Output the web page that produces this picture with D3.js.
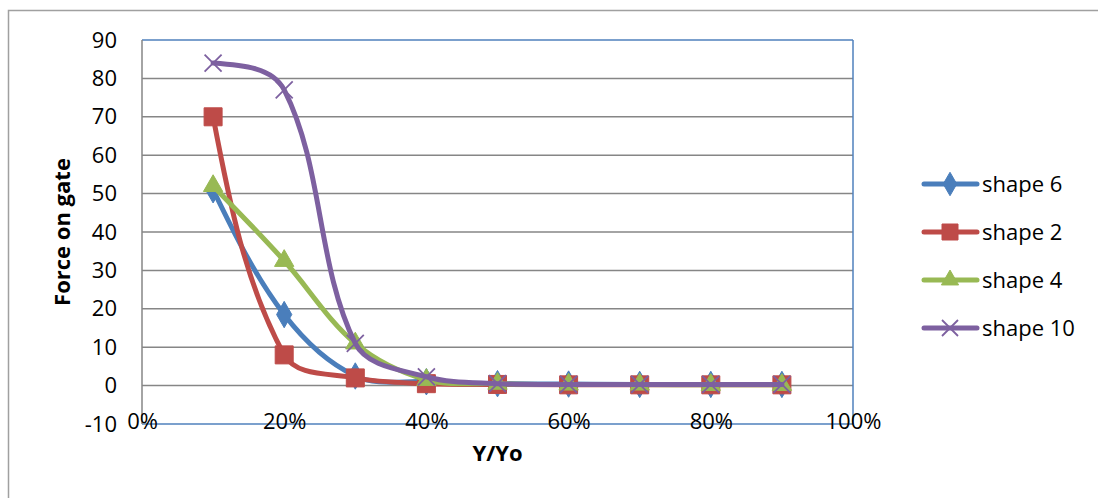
<!DOCTYPE html>
<html>
<head>
<meta charset="utf-8">
<script src="https://cdn.jsdelivr.net/npm/d3@7"></script>
<style>
  body { margin: 0; background: #fff; }
  svg text { font-family: "Open Sans", "Noto Sans", sans-serif; fill: #000; }
</style>
</head>
<body>
<svg id="chart" width="1098" height="498"></svg>
<script>
var xValues = [0.1, 0.2, 0.3, 0.4, 0.5, 0.6, 0.7, 0.8, 0.9];
var seriesNames = ["shape 6", "shape 2", "shape 4", "shape 10"];
var shape6 = [51, 18.5, 2.5, 1, 0.5, 0.4, 0.3, 0.3, 0.3];
var shape2 = [70, 8, 2, 0.5, 0.3, 0.2, 0.2, 0.2, 0.2];
var shape4 = [52, 32.5, 11, 1.5, 0.5, 0.3, 0.3, 0.2, 0.2];
var shape10 = [84, 77, 11, 2.3, 0.5, 0.3, 0.3, 0.3, 0.3];
var yTicks = [-10, 0, 10, 20, 30, 40, 50, 60, 70, 80, 90];
var xTicks = [0, 0.2, 0.4, 0.6, 0.8, 1];

var colors = ["#4a7ebb", "#be4b48", "#98b954", "#7d60a0"];
var markers = ["diamond", "square", "triangle", "cross"];
var allValues = [shape6, shape2, shape4, shape10];

// smoothing close to the spreadsheet's: tangent along neighbours,
// control arms proportional to each adjacent segment
function SmoothCurve(context) { this._context = context; }
SmoothCurve.prototype = {
  areaStart: function() {},
  areaEnd: function() {},
  lineStart: function() { this._px = []; this._py = []; },
  point: function(x, y) { this._px.push(+x); this._py.push(+y); },
  lineEnd: function() {
    var px = this._px, py = this._py, n = px.length, k = 1 / 3, ctx = this._context;
    if (!n) return;
    ctx.moveTo(px[0], py[0]);
    if (n === 1) return;
    var bx = [], by = [], ax = [], ay = [];
    for (var i = 1; i < n - 1; i++) {
      var tx = px[i + 1] - px[i - 1], ty = py[i + 1] - py[i - 1];
      var tl = Math.sqrt(tx * tx + ty * ty) || 1;
      tx /= tl; ty /= tl;
      var d1 = Math.hypot(px[i] - px[i - 1], py[i] - py[i - 1]);
      var d2 = Math.hypot(px[i + 1] - px[i], py[i + 1] - py[i]);
      bx[i] = px[i] - tx * d1 * k; by[i] = py[i] - ty * d1 * k;
      ax[i] = px[i] + tx * d2 * k; ay[i] = py[i] + ty * d2 * k;
    }
    if (n === 2) {
      ax[0] = px[0]; ay[0] = py[0]; bx[1] = px[1]; by[1] = py[1];
    } else {
      ax[0] = px[0] + (bx[1] - px[0]) * 0.5; ay[0] = py[0] + (by[1] - py[0]) * 0.5;
      bx[n - 1] = px[n - 1] + (ax[n - 2] - px[n - 1]) * 0.5;
      by[n - 1] = py[n - 1] + (ay[n - 2] - py[n - 1]) * 0.5;
    }
    for (var j = 0; j < n - 1; j++) {
      ctx.bezierCurveTo(ax[j], ay[j], bx[j + 1], by[j + 1], px[j + 1], py[j + 1]);
    }
  }
};
function curveSmooth(context) { return new SmoothCurve(context); }

var svg = d3.select("#chart");

// outer chart border
svg.append("rect")
  .attr("x", 8.5).attr("y", 10.5)
  .attr("width", 1100).attr("height", 500)
  .attr("fill", "none").attr("stroke", "#a0a0a0").attr("stroke-width", 1.5);

var plotL = 142, plotR = 853, plotT = 40, plotB = 424;
var x = d3.scaleLinear().domain([0, 1]).range([plotL, plotR]);
var y = d3.scaleLinear().domain([-10, 90]).range([plotB, plotT]);

// gridlines
svg.append("g")
  .selectAll("line")
  .data(yTicks.filter(function(d) { return d > -10 && d < 90; }))
  .enter().append("line")
  .attr("x1", plotL).attr("x2", plotR)
  .attr("y1", function(d) { return y(d); })
  .attr("y2", function(d) { return y(d); })
  .attr("stroke", "#868686").attr("stroke-width", 1.5);

// plot area edges
svg.append("line").attr("x1", plotL).attr("x2", plotR).attr("y1", plotT).attr("y2", plotT)
  .attr("stroke", "#4f81bd").attr("stroke-width", 1.5);
svg.append("line").attr("x1", plotR).attr("x2", plotR).attr("y1", plotT).attr("y2", plotB)
  .attr("stroke", "#4f81bd").attr("stroke-width", 1.5);
svg.append("line").attr("x1", plotL).attr("x2", plotR).attr("y1", plotB).attr("y2", plotB)
  .attr("stroke", "#4f81bd").attr("stroke-width", 1.5);
svg.append("line").attr("x1", plotL).attr("x2", plotL).attr("y1", plotT).attr("y2", plotB)
  .attr("stroke", "#868686").attr("stroke-width", 1.5);

// y axis labels
var yAxis = svg.append("g")
  .attr("transform", "translate(" + plotL + ",0)")
  .call(d3.axisLeft(y).tickValues(yTicks).tickSize(0).tickPadding(25).tickFormat(String));
yAxis.select(".domain").remove();
yAxis.attr("font-family", null).attr("font-size", null);
yAxis.selectAll("text").style("font-size", "22px");

// x axis labels
var xAxis = svg.append("g")
  .attr("transform", "translate(0," + plotB + ")")
  .call(d3.axisBottom(x).tickValues(xTicks).tickSize(0).tickFormat(d3.format(".0%")));
xAxis.select(".domain").remove();
xAxis.attr("font-family", null).attr("font-size", null);
xAxis.selectAll("text").style("font-size", "22px").attr("y", -2).attr("dy", "0.32em");

// axis titles
svg.append("text")
  .attr("x", (plotL + plotR) / 2).attr("y", 461)
  .attr("text-anchor", "middle")
  .style("font-size", "22px").style("font-weight", "bold")
  .text("Y/Yo");
svg.append("text")
  .attr("transform", "translate(70,232) rotate(-90)")
  .attr("text-anchor", "middle")
  .style("font-size", "22px").style("font-weight", "bold")
  .text("Force on gate");

function drawMarker(g, type, color, size) {
  if (type === "cross") {
    var h = size / 2;
    g.append("path")
      .attr("d", "M" + (-h) + "," + (-h) + "L" + h + "," + h + "M" + (-h) + "," + h + "L" + h + "," + (-h))
      .attr("stroke", color).attr("stroke-width", 1.8).attr("fill", "none");
  } else {
    var sym = type === "diamond" ? d3.symbolDiamond : type === "square" ? d3.symbolSquare : d3.symbolTriangle;
    var area = type === "diamond" ? size * size * 0.62 : type === "square" ? size * size : size * size * 0.5;
    g.append("path")
      .attr("d", d3.symbol().type(sym).size(area)())
      .attr("fill", color)
      .attr("stroke", color).attr("stroke-width", 1);
  }
}

var line = d3.line()
  .x(function(d, i) { return x(xValues[i]); })
  .y(function(d) { return y(d); })
  .curve(curveSmooth);

allValues.forEach(function(vals, s) {
  svg.append("path")
    .datum(vals)
    .attr("d", line)
    .attr("fill", "none")
    .attr("stroke", colors[s])
    .attr("stroke-width", 5)
    .attr("stroke-linejoin", "round")
    .attr("stroke-linecap", "round");
  vals.forEach(function(v, i) {
    var g = svg.append("g").attr("transform", "translate(" + x(xValues[i]) + "," + y(v) + ")");
    drawMarker(g, markers[s], colors[s], s === 3 ? 17 : 18);
  });
});

// legend
var legendY = [184, 232, 280, 328];
seriesNames.forEach(function(name, s) {
  var g = svg.append("g").attr("transform", "translate(0," + legendY[s] + ")");
  g.append("line").attr("x1", 924).attr("x2", 977).attr("y1", 0).attr("y2", 0)
    .attr("stroke", colors[s]).attr("stroke-width", 5).attr("stroke-linecap", "round");
  var m = g.append("g").attr("transform", "translate(950,0)");
  drawMarker(m, markers[s], colors[s], 16);
  g.append("text").attr("x", 982).attr("y", 0).attr("dy", "0.35em")
    .style("font-size", "22px").text(name);
});
</script>
</body>
</html>
